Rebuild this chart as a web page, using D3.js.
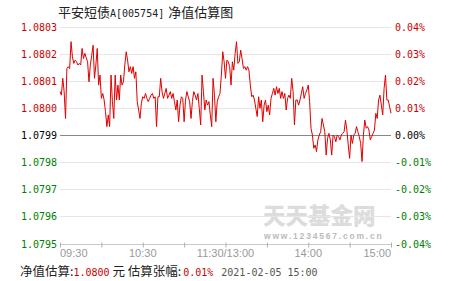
<!DOCTYPE html>
<html lang='zh'>
	<head>
		<meta charset='utf-8'>
		<title>平安短债A 净值估算图</title>
		<script type='text/javascript' src='https://cdn.jsdelivr.net/npm/d3@7/dist/d3.min.js'></script>
		<style>
			body { margin: 0; background: #fff; }
			text { font-family: 'Liberation Sans', Arial, sans-serif; }
			.mono { font-family: 'DejaVu Sans Mono', 'Liberation Mono', monospace; font-size: 10px; }
			.cjk { font-family: 'Noto Sans CJK SC', sans-serif; }
		</style>
	</head>
	<body>
		<script type='text/javascript'>
		// previous day's NAV, the reference line
		var prevNav = 1.0799;
		var navTicks = [1.0803, 1.0802, 1.0801, 1.0800, 1.0799, 1.0798, 1.0797, 1.0796, 1.0795];
		var pctTicks = ['0.04%', '0.03%', '0.02%', '0.01%', '0.00%', '-0.01%', '-0.02%', '-0.03%', '-0.04%'];
		var timeTicks = [0, 30, 60, 90, 120, 150, 180, 210, 240];
		var timeLabels = [[0, '09:30'], [60, '10:30'], [120, '11:30/13:00'], [180, '14:00'], [240, '15:00']];

		// one estimate per trading minute, 09:30-11:30 then 13:00-15:00
		var navMorning1 = [
			1.080060, 1.080047, 1.080109, 1.080060, 1.079961, 1.080145, 1.080152, 1.080145, 1.080244, 1.080188,
			1.080164, 1.080176, 1.080170, 1.080158, 1.080164, 1.080158, 1.080219, 1.080182, 1.080201, 1.080185,
			1.080170, 1.080096, 1.080158, 1.080194, 1.080231, 1.080109, 1.080158, 1.080219, 1.080084, 1.080121,
			1.080035, 1.080053, 1.080029, 1.079986, 1.079931, 1.079974, 1.079931, 1.080121, 1.080023, 1.079961,
			1.080121, 1.080029, 1.080084, 1.080029, 1.080121, 1.080084, 1.080096, 1.080158
		];
		var navMorning2 = [
			1.080207, 1.080176, 1.080133, 1.080152, 1.080127, 1.080152, 1.080109, 1.080133, 1.080023, 1.079992,
			1.079961, 1.080017, 1.080041, 1.080035, 1.080053, 1.080035, 1.080023, 1.080035, 1.080047, 1.080053,
			1.080035, 1.080041, 1.079931, 1.080041, 1.080041, 1.080109, 1.080060, 1.080035, 1.080053, 1.080072,
			1.080035, 1.080047, 1.080060, 1.080035, 1.080053, 1.080023, 1.079992, 1.080029, 1.079949, 1.080010,
			1.080041, 1.080035, 1.079949, 1.080029, 1.080060, 1.080041, 1.080023, 1.079961
		];
		var navMidday = [
			1.080023, 1.080060, 1.080047, 1.080029, 1.080053, 1.079998, 1.079937, 1.080121, 1.080060, 1.079992,
			1.080029, 1.080010, 1.080023, 1.079974, 1.079931, 1.080109, 1.080047, 1.079949, 1.080023, 1.080041,
			1.080053, 1.080121, 1.080207, 1.080170, 1.080109, 1.080176, 1.080170, 1.080152, 1.080084, 1.080170,
			1.080139, 1.080201, 1.080244, 1.080164, 1.080170, 1.080213, 1.080182, 1.080145, 1.080152, 1.080139,
			1.080152, 1.080139, 1.080084, 1.080041, 1.080047, 1.080029, 1.079998, 1.079968
		];
		var navAfternoon1 = [
			1.080041, 1.079998, 1.080029, 1.079949, 1.080010, 1.080029, 1.079986, 1.080010, 1.079974, 1.080035,
			1.080053, 1.080072, 1.080047, 1.080078, 1.080053, 1.080072, 1.080035, 1.080060, 1.080035, 1.080053,
			1.079992, 1.080035, 1.080047, 1.080035, 1.080109, 1.080060, 1.079937, 1.080029, 1.080029, 1.080010,
			1.080029, 1.080053, 1.080078, 1.080035, 1.080053, 1.080066, 1.080084, 1.080023, 1.079925, 1.079900,
			1.079851, 1.079863, 1.079839, 1.079882, 1.079900, 1.079912, 1.079961, 1.079937
		];
		var navAfternoon2 = [
			1.079912, 1.079826, 1.079888, 1.079906, 1.079882, 1.079826, 1.079900, 1.079894, 1.079875, 1.079900,
			1.079894, 1.079882, 1.079900, 1.079906, 1.079912, 1.079955, 1.079918, 1.079863, 1.079814, 1.079900,
			1.079869, 1.079900, 1.079906, 1.079931, 1.079912, 1.079894, 1.079869, 1.079802, 1.079900, 1.079955,
			1.079925, 1.079931, 1.079918, 1.079882, 1.079894, 1.079906, 1.079918, 1.079980, 1.079961, 1.080029,
			1.080047, 1.080010, 1.079974, 1.080072, 1.080121, 1.080029, 1.080029, 1.080004, 1.079980
		];
		var navValues = navMorning1.concat(navMorning2, navMidday, navAfternoon1, navAfternoon2);

		var estNav = '1.0800', estPct = '0.01%', stamp = '2021-02-05 15:00';

		var width = 451, height = 281;
		var svg = d3.select('body').append('svg').attr('width', width).attr('height', height);

		var x = d3.scaleLinear().domain([0, 240]).range([60, 391]);
		var y = d3.scaleLinear().domain([1.0795, 1.0803]).range([243.5, 26.5]);
		var py = v => Math.round(y(v)) + 0.5;

		var red = '#cc0000', green = '#008000';
		var tone = v => v > prevNav + 1e-9 ? red : (v < prevNav - 1e-9 ? green : '#000');

		// title
		var title = svg.append('text').attr('class', 'cjk')
			.attr('x', 58).attr('y', 17)
			.attr('font-size', 13).attr('fill', '#222');
		title.append('tspan').text('平安短债');
		title.append('tspan').attr('class', 'mono').attr('font-size', 11).text('A[005754]');
		title.append('tspan').attr('dx', 4).text('净值估算图');

		// watermark
		svg.append('text').attr('class', 'cjk')
			.attr('x', 263).attr('y', 224)
			.attr('font-size', 22.5).attr('font-weight', 900)
			.attr('fill', '#dcdcdc')
			.text('天天基金网');
		svg.append('text')
			.attr('x', 264).attr('y', 239)
			.attr('font-size', 8.5).attr('font-weight', 'bold')
			.attr('fill', '#bbbbbb').attr('letter-spacing', 1.8)
			.text('www.1234567.com.cn');

		// grid lines
		svg.append('g').selectAll('line').data(navTicks).enter().append('line')
			.attr('x1', x(0)).attr('x2', x(240))
			.attr('y1', py).attr('y2', py)
			.attr('stroke', d => Math.abs(d - prevNav) < 1e-9 ? '#888888' : (d == 1.0795 ? '#c8c8c8' : '#e6e6e6'))
			.attr('stroke-width', 1);

		// left NAV labels
		svg.append('g').selectAll('text').data(navTicks).enter().append('text')
			.attr('class', 'mono')
			.attr('x', 57).attr('y', d => py(d) + 3.5)
			.attr('text-anchor', 'end')
			.attr('fill', tone)
			.text(d => d.toFixed(4));

		// right percent labels
		svg.append('g').selectAll('text').data(navTicks).enter().append('text')
			.attr('class', 'mono')
			.attr('x', 395)
			.attr('y', d => py(d) + 3.5)
			.attr('fill', tone)
			.text((d, i) => pctTicks[i]);

		// time axis
		svg.append('g')
			.attr('transform', 'translate(0,' + py(1.0795) + ')')
			.call(d3.axisBottom(x).tickValues(timeTicks).tickSize(3).tickFormat(''))
			.call(g => g.select('.domain').remove())
			.call(g => g.selectAll('.tick line').attr('stroke', '#b0b0b0').attr('y1', -2));

		svg.append('g').selectAll('text').data(timeLabels).enter().append('text')
			.attr('x', d => x(d[0]))
			.attr('y', 257)
			.attr('font-size', 11)
			.attr('fill', '#999999')
			.attr('text-anchor', d => d[0] == 0 ? 'start' : (d[0] == 240 ? 'end' : 'middle'))
			.text(d => d[1]);

		// estimate line
		var line = d3.line().x((d, i) => x(i)).y(d => y(d));
		svg.append('path').datum(navValues)
			.attr('d', line)
			.attr('fill', 'none')
			.attr('stroke', '#e00000')
			.attr('stroke-width', 1);

		// footer
		var foot = svg.append('text').attr('class', 'cjk').attr('x', 20).attr('y', 276).attr('font-size', 12.5).attr('fill', '#222');
		foot.append('tspan').text('净值估算:');
		foot.append('tspan').attr('class', 'mono').attr('font-size', 11).attr('fill', red).text(estNav);
		foot.append('tspan').text(' 元 估算张幅:');
		foot.append('tspan').attr('class', 'mono').attr('font-size', 11).attr('fill', red).attr('dx', 2).text(estPct);
		foot.append('tspan').attr('class', 'mono').attr('font-size', 11).attr('fill', '#555').attr('dx', 8).text(stamp);
		</script>
	</body>
</html>
